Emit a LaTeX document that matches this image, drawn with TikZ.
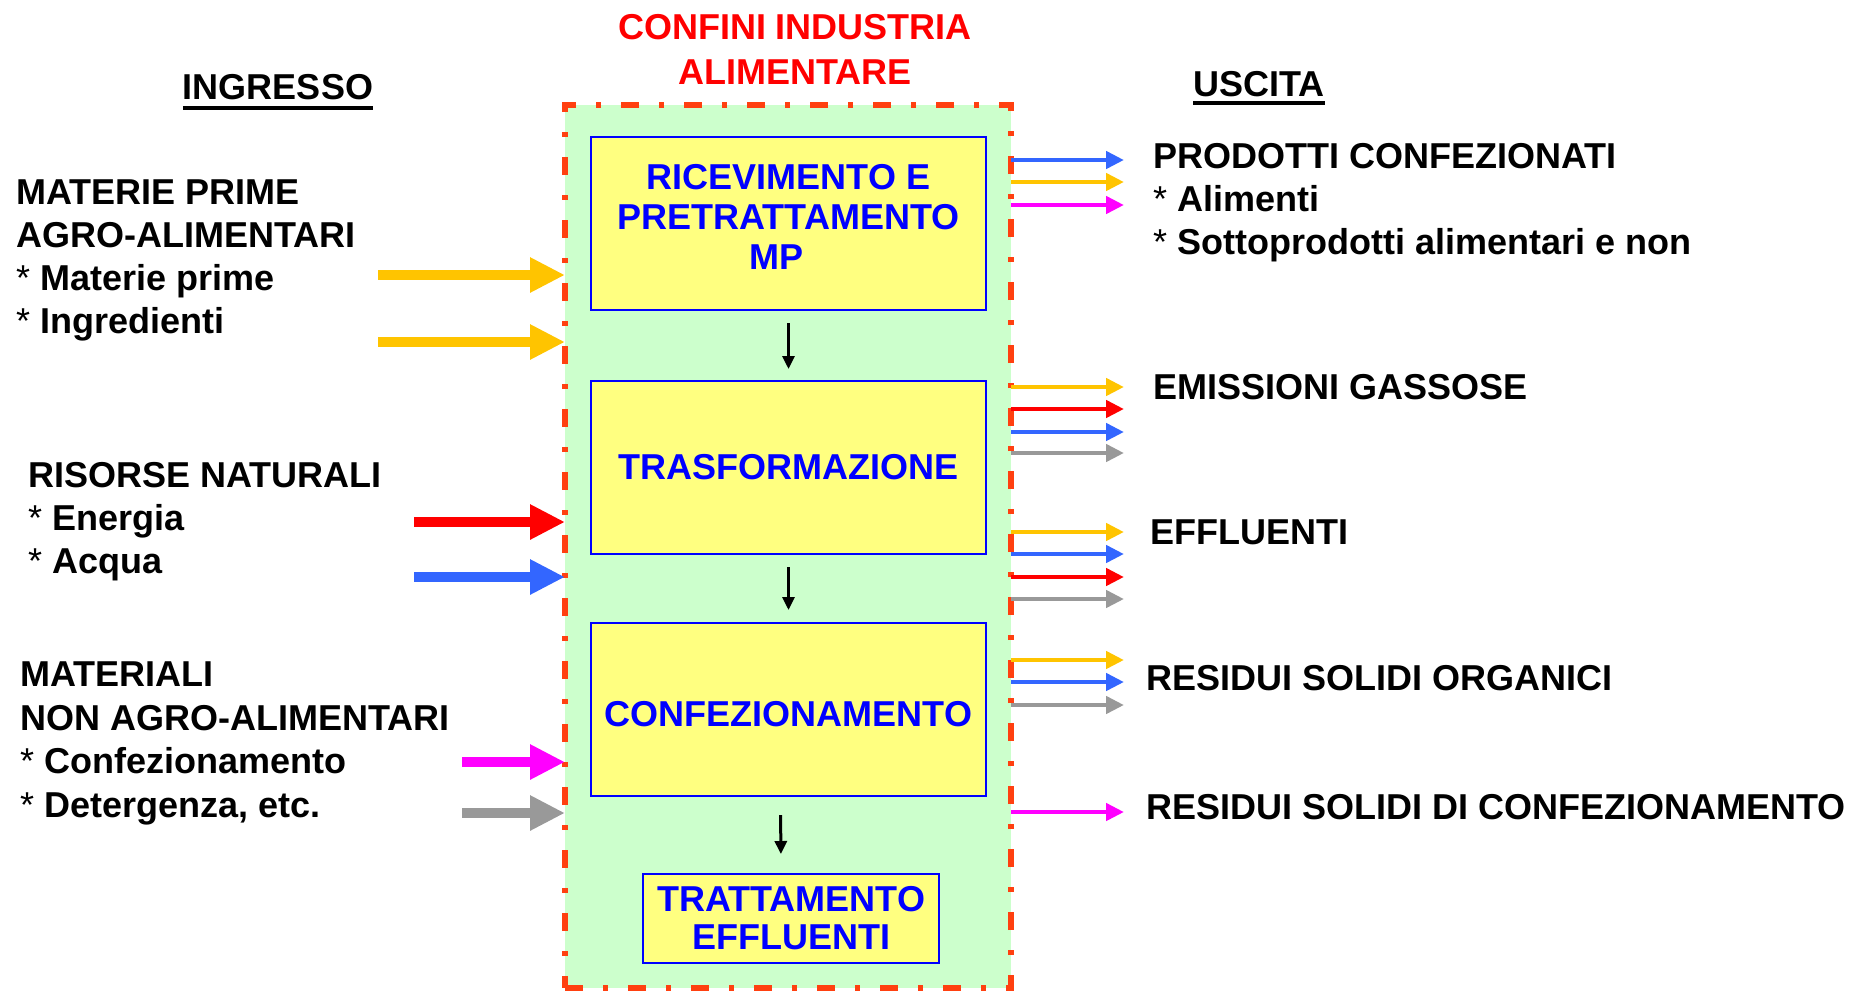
\documentclass[tikz,border=0pt]{standalone}
\usepackage{fontspec}
\setmainfont{Liberation Sans}
\definecolor{borderColor}{HTML}{FF4010}
\definecolor{insideColor}{HTML}{CCFFCC}
\definecolor{stepColor}{HTML}{FFFF80}
\definecolor{stepTextColor}{HTML}{0000FF}
\definecolor{yellowFlow}{HTML}{FFC400}
\definecolor{redFlow}{HTML}{FF0000}
\definecolor{blueFlow}{HTML}{3366FF}
\definecolor{magentaFlow}{HTML}{FF00FF}
\definecolor{grayFlow}{HTML}{999999}
\newcommand{\itemStar}{{\mdseries *}}
\usetikzlibrary{arrows.meta, positioning}
\tikzset{
    x = 1pt, y = -1pt,
    stepNode/.style = {rectangle, draw=stepTextColor, line width=2pt, fill=stepColor, text=stepTextColor, font=\fontsize{36}{40}\selectfont\bfseries, align=center, minimum width=395pt, minimum height=173pt, outer sep=0pt},
    boundaryNode/.style = {rectangle, draw=borderColor, fill=insideColor, line width=6pt, dash pattern=on 18pt off 20pt on 5pt off 20pt, minimum width=446pt, minimum height=883pt, outer sep=0pt},
    labelNode/.style = {font=\fontsize{36}{43}\selectfont\bfseries, align=left, inner sep=0pt, anchor=north west},
    titleNode/.style = {font=\fontsize{36}{43}\selectfont\bfseries, inner sep=0pt},
    inPath/.style = {-{Triangle[length=35pt, width=33pt]}, line width=10pt, draw},
    outPath/.style = {-{Triangle[length=18pt, width=17pt]}, line width=4.5pt, draw},
    stepPath/.style = {-{Triangle[length=13pt, width=12pt]}, line width=3pt, draw, black}
}
\begin{document}
\begin{tikzpicture}
            \useasboundingbox (0,0) rectangle (1865,991);
            % confini e fasi
            \node(confine)[boundaryNode] at (788,546.5){};
            \node(rice)[stepNode, text depth=13pt] at (788.5,223.5){RICEVIMENTO E\\PRETRATTAMENTO\\MP\hspace*{24pt}};
            \node(trasf)[stepNode, below=71pt of rice]{TRASFORMAZIONE};
            \node(conf)[stepNode, below=69pt of trasf, text height=35pt]{CONFEZIONAMENTO};
            \node(tratt)[stepNode, below=78pt of conf, xshift=2.5pt, minimum width=296pt, minimum height=89pt, font=\fontsize{36}{38}\selectfont\bfseries]{TRATTAMENTO\\EFFLUENTI};
            \path[stepPath, shorten <=13pt, shorten >=12pt] (rice) -- (trasf);
            \path[stepPath, shorten <=13pt, shorten >=13pt] (trasf) -- (conf);
            \path[stepPath, shorten <=19pt, shorten >=20pt] ([xshift=-8pt]conf.south) -- ([xshift=-10pt]tratt.north);
            % titoli
            \node(confiniTitle)[titleNode, text=red, font=\fontsize{36}{45}\selectfont\bfseries, align=center] at (795,49){CONFINI INDUSTRIA\\ALIMENTARE};
            \node(ingresso)[titleNode] at (278,87){INGRESSO};
            \node(uscita)[titleNode] at (1259,84){USCITA};
            \draw[line width=3.5pt] ([yshift=-8pt]ingresso.south west) -- ([yshift=-8pt]ingresso.south east);
            \draw[line width=3.5pt] ([yshift=-6pt]uscita.south west) -- ([yshift=-6pt]uscita.south east);
            % ingresso
            \node(matPrime)[labelNode] at (16,180){MATERIE PRIME\\AGRO-ALIMENTARI\\\itemStar{} Materie prime\\\itemStar{} Ingredienti};
            \node(risorse)[labelNode] at (28,462){RISORSE NATURALI\\\itemStar{} Energia\\\itemStar{} Acqua};
            \node(materiali)[labelNode, font=\fontsize{36}{43.5}\selectfont\bfseries] at (20,662){MATERIALI\\NON AGRO-ALIMENTARI\\\itemStar{} Confezionamento\\\itemStar{} Detergenza, etc.};
            \coordinate(inMatA) at (378,275);
            \coordinate(inMatB) at (378,342);
            \coordinate(inEnergia) at (414,522);
            \coordinate(inAcqua) at (414,577);
            \coordinate(inConf) at (462,762);
            \coordinate(inDet) at (462,813);
            \path[inPath, yellowFlow] (inMatA) -- (inMatA -| confine.west);
            \path[inPath, yellowFlow] (inMatB) -- (inMatB -| confine.west);
            \path[inPath, redFlow] (inEnergia) -- (inEnergia -| confine.west);
            \path[inPath, blueFlow] (inAcqua) -- (inAcqua -| confine.west);
            \path[inPath, magentaFlow] (inConf) -- (inConf -| confine.west);
            \path[inPath, grayFlow] (inDet) -- (inDet -| confine.west);
            % uscita
            \node(prodotti)[labelNode] at (1153,143){PRODOTTI CONFEZIONATI\\\itemStar{} Alimenti\\\itemStar{} Sottoprodotti alimentari e non};
            \node(emissioni)[labelNode, anchor=west] at (1153,387){EMISSIONI GASSOSE};
            \node(effluenti)[labelNode, anchor=west] at (1150,532){EFFLUENTI};
            \node(residuiOrg)[labelNode, anchor=west] at (1146,678){RESIDUI SOLIDI ORGANICI};
            \node(residuiConf)[labelNode, anchor=west] at (1146,807){RESIDUI SOLIDI DI CONFEZIONAMENTO};
            \coordinate(outProdA) at (1124,160);
            \coordinate(outProdB) at (1124,182);
            \coordinate(outProdC) at (1124,205);
            \coordinate(outEmA) at (1124,387);
            \coordinate(outEmB) at (1124,409);
            \coordinate(outEmC) at (1124,432);
            \coordinate(outEmD) at (1124,453);
            \coordinate(outEffA) at (1124,532);
            \coordinate(outEffB) at (1124,554);
            \coordinate(outEffC) at (1124,577);
            \coordinate(outEffD) at (1124,599);
            \coordinate(outOrgA) at (1124,660);
            \coordinate(outOrgB) at (1124,682);
            \coordinate(outOrgC) at (1124,705);
            \coordinate(outConf) at (1124,812);
            \path[outPath, blueFlow] (confine.east |- outProdA) -- (outProdA);
            \path[outPath, yellowFlow] (confine.east |- outProdB) -- (outProdB);
            \path[outPath, magentaFlow] (confine.east |- outProdC) -- (outProdC);
            \path[outPath, yellowFlow] (confine.east |- outEmA) -- (outEmA);
            \path[outPath, redFlow] (confine.east |- outEmB) -- (outEmB);
            \path[outPath, blueFlow] (confine.east |- outEmC) -- (outEmC);
            \path[outPath, grayFlow] (confine.east |- outEmD) -- (outEmD);
            \path[outPath, yellowFlow] (confine.east |- outEffA) -- (outEffA);
            \path[outPath, blueFlow] (confine.east |- outEffB) -- (outEffB);
            \path[outPath, redFlow] (confine.east |- outEffC) -- (outEffC);
            \path[outPath, grayFlow] (confine.east |- outEffD) -- (outEffD);
            \path[outPath, yellowFlow] (confine.east |- outOrgA) -- (outOrgA);
            \path[outPath, blueFlow] (confine.east |- outOrgB) -- (outOrgB);
            \path[outPath, grayFlow] (confine.east |- outOrgC) -- (outOrgC);
            \path[outPath, magentaFlow] (confine.east |- outConf) -- (outConf);
        \end{tikzpicture}
\end{document}
